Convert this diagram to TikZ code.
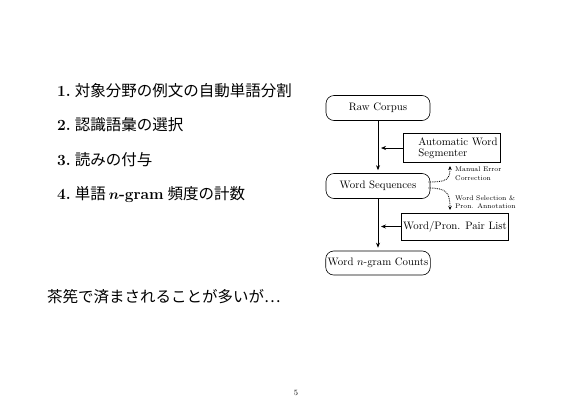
\documentclass[tikz,border=0pt]{standalone}
\usepackage{fontspec}
\newfontfamily\jp{Noto Sans CJK JP}
\usetikzlibrary{arrows.meta,calc}
\tikzset{
  listitem/.style={anchor=west, inner sep=0pt, font=\fontsize{15.5}{18}\selectfont},
  rbox/.style={draw, line width=0.6pt, rounded corners=8pt, minimum width=104pt, minimum height=25pt, inner sep=2pt, font=\fontsize{10.8}{12}\selectfont},
  sbox/.style={draw, line width=0.6pt, minimum height=27pt, inner sep=2pt, font=\fontsize{10.8}{11.5}\selectfont},
  arr/.style={line width=0.7pt, -{Stealth[length=5pt,width=4pt]}},
  darr/.style={line width=0.9pt, dash pattern=on 0.8pt off 1pt, -{Stealth[length=4pt,width=3.5pt]}},
  smalllab/.style={anchor=north west, inner sep=0pt, align=left, font=\fontsize{6.8}{8.5}\selectfont}
}
\begin{document}
\begin{tikzpicture}[x=1pt,y=-1pt]
\useasboundingbox[fill=white] (0,0) rectangle (576,410);
% list
\node[listitem] (l1) at (57,91) {\textbf{1.}\hspace{4pt}{\jp 対象分野の例文の自動単語分割}};
\node[listitem] (l2) at (57,125) {\textbf{2.}\hspace{4pt}{\jp 認識語彙の選択}};
\node[listitem] (l3) at (57,160) {\textbf{3.}\hspace{4pt}{\jp 読みの付与}};
\node[listitem] (l4) at (57,195) {\textbf{4.}\hspace{4pt}{\jp 単語}\hspace{3pt}{\bfseries\boldmath$n$-gram}\hspace{4pt}{\jp 頻度の計数}};
\node[listitem] (l5) at (47,297) {\jp 茶筅で済まされることが多いが…};
\node[inner sep=0pt, font=\fontsize{8}{9}\selectfont] (pg) at (296,393) {5};
% diagram
\node[rbox] (raw) at (378,108) {Raw Corpus};
\node[sbox, minimum width=97pt, minimum height=29pt, align=left] (seg) at (451.5,148) {\hspace*{13pt}Automatic Word\\\hspace*{13pt}Segmenter};
\node[rbox] (ws) at (378,186) {Word Sequences};
\node[sbox, minimum width=104pt] (pair) at (455,226.5) {Word/Pron. Pair List};
\node[rbox, minimum height=24pt] (cnt) at (378,263) {Word $n$-gram Counts};
\draw[arr, shorten >=3pt] (raw.south) -- (ws.north);
\draw[arr, shorten >=3pt] (ws.south) -- (cnt.north);
\coordinate (c1) at ($(seg.west -| raw.south)+(3,0)$);
\draw[arr] (seg.west) -- (c1);
\coordinate (c2) at ($(pair.west -| ws.south)+(3,0)$);
\draw[arr] (pair.west) -- (c2);
\coordinate (t1) at (450,166);
\coordinate (t2) at (450,210);
\draw[darr] ($(ws.east)+(-2,-4)$) .. controls (446,182) and (450,180) .. (t1);
\draw[darr] ($(ws.east)+(-2,2)$) .. controls (446,188) and (450,192) .. (t2);
\node[smalllab] (lab1) at (455,167) {Manual Error\\Correction};
\node[smalllab] (lab2) at (455,195) {Word Selection \&\\Pron. Annotation};
\end{tikzpicture}
\end{document}
